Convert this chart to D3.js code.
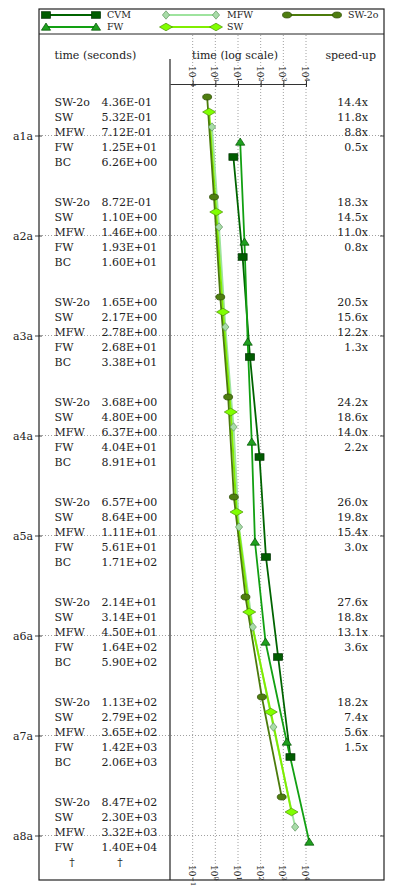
<!DOCTYPE html>
<html>
<head>
<meta charset="utf-8">
<script src="https://cdn.jsdelivr.net/npm/d3@7"></script>
<style>
  body { margin: 0; background: #fff; }
  text { font-family: "DejaVu Serif", serif; fill: #222; }
  .grid { stroke: #888; stroke-width: 0.8; stroke-dasharray: 1,2; }
</style>
</head>
<body>
<svg width="399" height="891"></svg>
<script>
// data
var groups = ["a1a", "a2a", "a3a", "a4a", "a5a", "a6a", "a7a", "a8a"];
var rowNames = ["SW-2o", "SW", "MFW", "FW", "BC"];
var timeSW2o = [0.436, 0.872, 1.65, 3.68, 6.57, 21.4, 113, 847];
var timeSW = [0.532, 1.10, 2.17, 4.80, 8.64, 31.4, 279, 2300];
var timeMFW = [0.712, 1.46, 2.78, 6.37, 11.1, 45.0, 365, 3320];
var timeFW = [12.5, 19.3, 26.8, 40.4, 56.1, 164, 1420, 14000];
var timeBC = [6.26, 16.0, 33.8, 89.1, 171, 590, 2060, null];
var speedSW2o = [14.4, 18.3, 20.5, 24.2, 26.0, 27.6, 18.2, null];
var speedSW = [11.8, 14.5, 15.6, 18.6, 19.8, 18.8, 7.4, null];
var speedMFW = [8.8, 11.0, 12.2, 14.0, 15.4, 13.1, 5.6, null];
var speedFW = [0.5, 0.8, 1.3, 2.2, 3.0, 3.6, 1.5, null];
var logTicks = [1e-1, 1e0, 1e1, 1e2, 1e3, 1e4];
var tickExp = ["\u22121", "0", "1", "2", "3", "4"];

var times = [timeSW2o, timeSW, timeMFW, timeFW, timeBC];
var speeds = [speedSW2o, speedSW, speedMFW, speedFW];

// series: row index in the table, legend name, style
var series = [
    {name: "CVM", row: 4, line: "#006400", fill: "#005c00", edge: "#003000", shape: "square", lw: 1.8},
    {name: "MFW", row: 2, line: "#9ee39e", fill: "#a8dca8", edge: "#5f935f", shape: "diamondS", lw: 1.8},
    {name: "SW-2o", row: 0, line: "#4b7b0b", fill: "#4e7e10", edge: "#2a4800", shape: "circle", lw: 1.8},
    {name: "FW", row: 3, line: "#12a012", fill: "#1fa01f", edge: "#005000", shape: "triangle", lw: 1.8},
    {name: "SW", row: 1, line: "#80ee00", fill: "#80ff00", edge: "#4a9000", shape: "diamondL", lw: 2}
];

var svg = d3.select("svg");
var box = {left: 39, right: 384, top: 9, bottom: 880, sep: 34},
    colX = 170;

var x = d3.scaleLog().domain([1e-2, 1e4]).range([colX, 306]);
var y = d3.scalePoint().domain(groups).range([135.5, 835.5]);

function baseY(g, k) { return y(g) + (k - 2) * 15; }
function markY(g, k) { return baseY(g, k) - 8.5; }

function fmtE(v) {
    var p = v.toExponential(2).split("e");
    var e = +p[1];
    return p[0] + "E" + (e < 0 ? "-" : "+") + String(Math.abs(e)).padStart(2, "0");
}

function marker(sel, shape, fill, edge) {
    if (shape == "circle") {
        sel.append("ellipse").attr("rx", 4.5).attr("ry", 3);
    } else if (shape == "square") {
        sel.append("rect").attr("x", -4.5).attr("y", -3.3).attr("width", 9).attr("height", 6.6);
    } else if (shape == "triangle") {
        sel.append("path").attr("d", "M0,-4L4.6,3.2L-4.6,3.2Z");
    } else if (shape == "diamondL") {
        sel.append("path").attr("d", "M-6.5,0L0,-3.8L6.5,0L0,3.8Z");
    } else {
        sel.append("path").attr("d", "M-3.6,0L0,-4.2L3.6,0L0,4.2Z");
    }
    sel.selectAll("*").attr("fill", fill).attr("stroke", edge).attr("stroke-width", 0.7);
}

// vertical grid
svg.append("g").selectAll("line").data(logTicks).join("line")
    .attr("class", "grid")
    .attr("x1", function(d) { return x(d); }).attr("x2", function(d) { return x(d); })
    .attr("y1", box.sep + 1).attr("y2", box.bottom);

// horizontal grid per group
svg.append("g").selectAll("line").data(groups).join("line")
    .attr("class", "grid")
    .attr("x1", box.left).attr("x2", box.right)
    .attr("y1", function(d) { return y(d); }).attr("y2", function(d) { return y(d); });

// group axis on both sides
var yl = svg.append("g").attr("transform", "translate(" + box.left + ",0)")
    .call(d3.axisLeft(y).tickSize(4).tickSizeOuter(0).tickPadding(2));
yl.select(".domain").remove();
yl.selectAll("text").style("font-size", "11px").style("font-family", "DejaVu Serif").attr("fill", "#222");
yl.selectAll("line").attr("stroke", "#444").attr("x2", -4).attr("x1", 3);
var yr = svg.append("g").attr("transform", "translate(" + box.right + ",0)")
    .call(d3.axisRight(y).tickSize(-4).tickSizeOuter(0).tickFormat(""));
yr.select(".domain").remove();
yr.selectAll("line").attr("stroke", "#444");

// frame
svg.append("rect").attr("x", box.left).attr("y", box.top)
    .attr("width", box.right - box.left).attr("height", box.bottom - box.top)
    .attr("fill", "none").attr("stroke", "#222").attr("stroke-width", 1.2);
svg.append("line").attr("x1", box.left).attr("x2", box.right)
    .attr("y1", box.sep).attr("y2", box.sep).attr("stroke", "#222").attr("stroke-width", 1);
svg.append("line").attr("x1", colX).attr("x2", colX)
    .attr("y1", 59).attr("y2", box.bottom).attr("stroke", "#222").attr("stroke-width", 1.2);

// headers
svg.append("text").attr("x", 54.5).attr("y", 59).style("font-size", "11px").text("time (seconds)");
svg.append("text").attr("x", 192).attr("y", 59).style("font-size", "11px").text("time (log scale)");
svg.append("text").attr("x", 376).attr("y", 59).attr("text-anchor", "end").style("font-size", "11px").text("speed-up");

// top log axis
var xa = svg.append("g").attr("transform", "translate(0,84)")
    .call(d3.axisTop(x).tickValues(logTicks).tickSize(3).tickSizeOuter(0).tickFormat(""));
xa.select(".domain").attr("stroke", "#333").attr("stroke-width", 1.1);
xa.selectAll(".tick line").attr("y2", 3).attr("y1", -3).attr("stroke", "#333");

function tickLabels(y0) {
    var t = svg.append("g").selectAll("text").data(logTicks).join("text")
        .attr("transform", function(d) { return "translate(" + (x(d) - 1) + "," + y0 + ") rotate(90)"; })
        .attr("dy", "0.35em")
        .style("font-size", "9px");
    t.append("tspan").text("10");
    t.append("tspan").attr("dy", "-0.45em").style("font-size", "6.5px")
        .text(function(d, i) { return tickExp[i]; });
}
tickLabels(66);
tickLabels(865);

// table text
groups.forEach(function(g, gi) {
    rowNames.forEach(function(r, k) {
        var v = times[k][gi];
        var yy = baseY(g, k);
        svg.append("text").attr("x", 54.5).attr("y", yy).style("font-size", "11px")
            .text(v == null ? "" : r);
        svg.append("text").attr("x", 101.5).attr("y", yy).style("font-size", "11px")
            .text(v == null ? "" : fmtE(v));
        if (k < 4 && speeds[k][gi] != null) {
            svg.append("text").attr("x", 368).attr("y", yy).attr("text-anchor", "end")
                .style("font-size", "11px").text(speeds[k][gi].toFixed(1) + "x");
        }
    });
});
// missing BC entry for last group
var gl = groups[groups.length - 1];
svg.append("text").attr("x", 72).attr("y", baseY(gl, 4)).attr("text-anchor", "middle").style("font-size", "11px").text("\u2020");
svg.append("text").attr("x", 120).attr("y", baseY(gl, 4)).attr("text-anchor", "middle").style("font-size", "11px").text("\u2020");

// series lines and markers
var lineOrder = [1, 4, 2, 0, 3];
lineOrder.forEach(function(si) {
    var s = series[si];
    var pts = groups.map(function(g, gi) { return {g: g, v: times[s.row][gi]}; })
        .filter(function(d) { return d.v != null; });
    var line = d3.line()
        .x(function(d) { return x(d.v); })
        .y(function(d) { return markY(d.g, s.row); });
    svg.append("path").datum(pts).attr("d", line)
        .attr("fill", "none").attr("stroke", s.line).attr("stroke-width", s.lw);
});
lineOrder.forEach(function(si) {
    var s = series[si];
    groups.forEach(function(g, gi) {
        var v = times[s.row][gi];
        if (v == null) return;
        var m = svg.append("g").attr("transform", "translate(" + x(v) + "," + markY(g, s.row) + ")");
        marker(m, s.shape, s.fill, s.edge);
    });
});

// legend
var legPos = [[46, 15], [166, 15], [287, 15], [46, 27], [166, 27]];
series.forEach(function(s, i) {
    var lx = legPos[i][0], ly = legPos[i][1];
    svg.append("line").attr("x1", lx).attr("x2", lx + 50).attr("y1", ly).attr("y2", ly)
        .attr("stroke", s.line).attr("stroke-width", s.lw);
    marker(svg.append("g").attr("transform", "translate(" + lx + "," + ly + ")"), s.shape, s.fill, s.edge);
    marker(svg.append("g").attr("transform", "translate(" + (lx + 50) + "," + ly + ")"), s.shape, s.fill, s.edge);
    svg.append("text").attr("x", lx + 61).attr("y", ly).attr("dy", "0.35em")
        .style("font-size", "9.5px").text(s.name);
});
</script>
</body>
</html>
